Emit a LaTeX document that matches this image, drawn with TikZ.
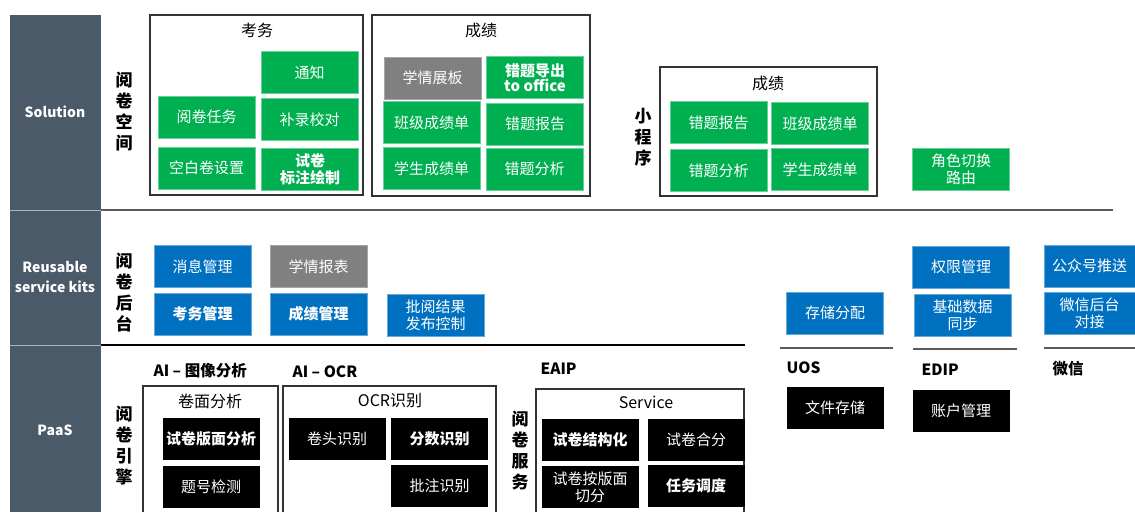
\documentclass[tikz,border=0pt]{standalone}
\usepackage{fontspec}
\setmainfont{Noto Sans CJK SC}
\definecolor{kitgreen}{HTML}{00B050}
\definecolor{kitblue}{HTML}{0070C0}
\definecolor{kitgray}{HTML}{808080}
\definecolor{sidebar}{HTML}{4A5A69}
\definecolor{rulegray}{HTML}{5A5A5A}

\begin{document}
\begin{tikzpicture}[x=1pt,y=-1pt,
    box/.style={minimum width=97pt,minimum height=42pt,inner sep=1pt,
        align=center,text=white,font=\fontsize{15}{17}\selectfont},
    frame/.style={draw=black!80,line width=1.1pt},
    title/.style={font=\fontsize{16}{18}\selectfont},
    vlabel/.style={align=center,font=\fontsize{17}{21}\selectfont\bfseries},
    hdr/.style={anchor=west,font=\fontsize{15.5}{17}\selectfont\bfseries}]
    \tikzstyle{gbox}=[box,fill=kitgreen,draw=kitgreen!60!white]
    \tikzstyle{bbox}=[box,fill=kitblue,draw=kitblue!60!white]
    \tikzstyle{xbox}=[box,fill=kitgray,draw=kitgray!70!white]
    \tikzstyle{kbox}=[box,fill=black]
    \tikzstyle{bold}=[font=\fontsize{15}{17}\selectfont\bfseries]
    \tikzstyle{side}=[align=center,text=white,font=\fontsize{14}{20}\selectfont\bfseries]

    \useasboundingbox (0,0) rectangle (1135,512);

    % left column
    \fill[sidebar] (10,15) rectangle (101,512);
    \draw[gray!60,line width=1pt] (10,210) -- (101,210) (10,345) -- (101,345);
    \node[side] (sol) at (55,112) {Solution};
    \node[side] (kits) at (55,277) {Reusable\\service kits};
    \node[side] (paas) at (55,430) {PaaS};

    % layer rules
    \draw[rulegray,line width=2pt] (101,210) -- (1113,210);
    \draw[black,line width=1.5pt] (101,345) -- (745,345);
    \draw[rulegray,line width=2pt] (780,348) -- (893,348) (913,349) -- (1017,349)
        (1044,348) -- (1135,348);

    % Solution
    \node[vlabel] (yjkj) at (124,112) {阅\\卷\\空\\间};
    \draw[frame] (150,15) rectangle (363,195);
    \node[title] (kw) at (257,30) {考务};
    \node[gbox] (tz) at (309.5,72.5) {通知};
    \node[gbox] (yjrw) at (206.5,117) {阅卷任务};
    \node[gbox] (blxd) at (309.5,119.5) {补录校对};
    \node[gbox] (kbjsz) at (206.5,168) {空白卷设置};
    \node[gbox,bold] (bzhz) at (310,169.5) {试卷\\标注绘制};

    \draw[frame] (372,15) rectangle (590,196);
    \node[title] (cj) at (481,30) {成绩};
    \node[xbox] (xqzb) at (432.5,78) {学情展板};
    \node[gbox,font=\fontsize{15}{15.5}\selectfont\bfseries] (ctdc) at (535,77.5) {错题导出\\to office};
    \node[gbox] (bjcjd) at (431.5,122.5) {班级成绩单};
    \node[gbox] (ctbg) at (535,124) {错题报告};
    \node[gbox] (xscjd) at (431.5,168.5) {学生成绩单};
    \node[gbox] (ctfx) at (534.5,169) {错题分析};

    \node[vlabel] (xcx) at (643,137) {小\\程\\序};
    \draw[frame] (660,67) rectangle (877,196);
    \node[title] (cjm) at (768,83) {成绩};
    \node[gbox] (ctbgm) at (718.5,122.5) {错题报告};
    \node[gbox] (bjcjdm) at (820,123.5) {班级成绩单};
    \node[gbox] (ctfxm) at (718.5,170.5) {错题分析};
    \node[gbox] (xscjdm) at (820,169.5) {学生成绩单};
    \node[gbox] (jsqh) at (961,169) {角色切换\\路由};

    % Reusable service kits
    \node[vlabel] (yjht) at (124,292.5) {阅\\卷\\后\\台};
    \node[bbox] (xxgl) at (202.5,266.5) {消息管理};
    \node[xbox] (xqbb) at (318.5,266.5) {学情报表};
    \node[bbox,bold] (kwgl) at (202.5,314) {考务管理};
    \node[bbox,bold] (cjgl) at (318.5,314) {成绩管理};
    \node[bbox] (pyjg) at (435.5,315) {批阅结果\\发布控制};
    \node[bbox] (ccfp) at (835,313) {存储分配};
    \node[bbox] (qxgl) at (961,267) {权限管理};
    \node[bbox] (jcsj) at (962.5,315) {基础数据\\同步};
    \node[bbox,minimum width=91pt] (gzh) at (1089.5,266) {公众号推送};
    \node[bbox,minimum width=91pt] (wxht) at (1089.5,313.5) {微信后台\\对接};

    % PaaS
    \node[vlabel] (yjyq) at (124,446) {阅\\卷\\引\\擎};
    \node[hdr] (aiimg) at (150,371) {AI – 图像分析};
    \node[hdr] (aiocr) at (289,372) {AI – OCR};
    \draw[frame] (143,512) -- (143,386) -- (278,386) -- (278,512);
    \node[title] (jmfx) at (210,401) {卷面分析};
    \node[kbox,bold] (bmfx) at (211,438.5) {试卷版面分析};
    \node[kbox] (thjc) at (211,486.5) {题号检测};
    \draw[frame] (283,512) -- (283,386) -- (496,386) -- (496,512);
    \node[title] (ocr) at (390,401) {OCR识别};
    \node[kbox] (jtsb) at (337,438.5) {卷头识别};
    \node[kbox,bold] (fssb) at (439.5,438.5) {分数识别};
    \node[kbox] (pzsb) at (439.5,485.5) {批注识别};

    \node[vlabel] (yjfw) at (520,451) {阅\\卷\\服\\务};
    \node[hdr] (eaip) at (537,369) {EAIP};
    \draw[frame] (536,512) -- (536,389) -- (744,389) -- (744,512);
    \node[title] (svc) at (646,402) {Service};
    \node[kbox,bold] (jgh) at (590,439.5) {试卷结构化};
    \node[kbox] (hf) at (696,439.5) {试卷合分};
    \node[kbox] (qf) at (590,487) {试卷按版面\\切分};
    \node[kbox,bold] (rwdd) at (696,486) {任务调度};
    \node[hdr] (uos) at (783,368) {UOS};
    \node[kbox] (wjcc) at (835,408) {文件存储};
    \node[hdr] (edip) at (918,370) {EDIP};
    \node[kbox] (zhgl) at (961,411) {账户管理};
    \node[hdr] (wx) at (1049,369) {微信};

\end{tikzpicture}
\end{document}
